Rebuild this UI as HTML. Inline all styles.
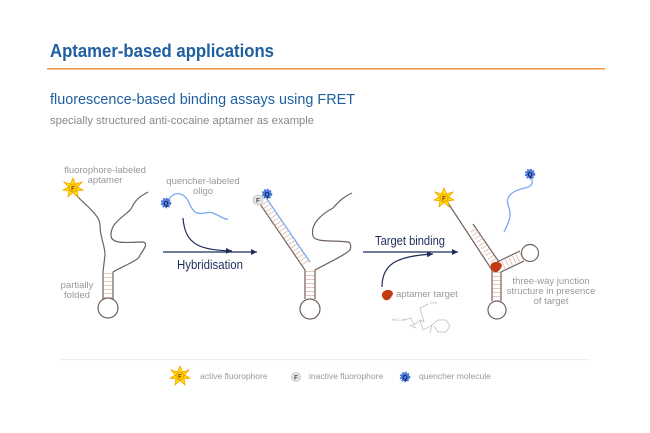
<!DOCTYPE html>
<html><head><meta charset="utf-8"><style>
html,body{margin:0;padding:0;background:#fff;}
svg{display:block;}
text{font-family:"Liberation Sans",sans-serif;}
</style></head><body>
<svg width="650" height="433" viewBox="0 0 650 433" xmlns="http://www.w3.org/2000/svg">
<defs>
<marker id="ah" markerWidth="6" markerHeight="6" refX="5" refY="3" orient="auto"><path d="M0,0.5 L5,3 L0,5.5 Z" fill="#1f2d5a"/></marker>
<g id="star"><polygon points="0,-10 2.5,-4 9,-6 4.5,-1 10,2 4,3 5,9 0,4.5 -5,9 -4,3 -10,2 -4.5,-1 -9,-6 -2.5,-4" fill="#ffe000" stroke="#f5a000" stroke-width="0.8"/><circle r="4" fill="#ffd400" stroke="#e08000" stroke-width="0.6"/><text x="0" y="2.5" font-size="6" font-weight="bold" text-anchor="middle" fill="#7a3000">F</text></g>
<g id="q"><circle r="4.2" fill="#4a78d8" stroke="#4a78d8" stroke-width="2.2" stroke-dasharray="1.6 1.2"/><circle r="3.6" fill="#4f7fe0"/><text x="0" y="2.3" font-size="6.5" font-weight="bold" text-anchor="middle" fill="#10204a">Q</text></g>
</defs>
<text x="50" y="57" font-size="18.5" font-weight="bold" fill="#1f5fa0" textLength="224" lengthAdjust="spacingAndGlyphs">Aptamer-based applications</text>
<rect x="47" y="68" width="558" height="1.6" fill="#ee9a4a"/>
<text x="50" y="104" font-size="15" fill="#1f5fa0" textLength="305" lengthAdjust="spacingAndGlyphs">fluorescence-based binding assays using FRET</text>
<text x="50" y="124" font-size="11" fill="#888" textLength="264" lengthAdjust="spacingAndGlyphs">specially structured anti-cocaine aptamer as example</text>

<g fill="none" stroke="#6e625c" stroke-width="1.2">
<path d="M74,193 C85,205 100,215 100,225 C100,238 105,245 105,255 L103,272"/>
<path d="M113,272 C125,265 140,260 140,255 C145,248 148,243 143,242 C130,242 112,245 111,236 C110,220 130,215 133,205 C138,197 143,195 148,192"/>
<path d="M103,272 L103,299 M113,272 L113,299"/>
<circle cx="108" cy="308" r="10"/>
<path d="M260,204 L305,270 L305,299 M315,299 L315,270 C330,262 345,255 350,250 C352,244 349,242 348,242 C335,240 315,243 313,236 C310,225 320,215 333,208 C340,200 345,196 352,193"/>
<circle cx="310" cy="309" r="10"/>
<path d="M446,200 L492,270 L492,301 M501,301 L501,272 L524,261 M499,262 L473,224 M497,262 L520,251"/>
<circle cx="497" cy="310" r="9"/>
<circle cx="530" cy="253" r="8.5"/>
</g>
<g stroke="#dfb4a6" fill="none">
<line x1="108" y1="273" x2="108" y2="298" stroke-width="9" stroke-dasharray="0.8 3.2"/>
<line x1="310" y1="271" x2="310" y2="298" stroke-width="9" stroke-dasharray="0.8 3.2"/>
<line x1="264" y1="203" x2="306" y2="264" stroke-width="8" stroke-dasharray="0.8 3.2"/>
<line x1="496.5" y1="272" x2="496.5" y2="300" stroke-width="8" stroke-dasharray="0.8 3.2"/>
<line x1="473" y1="230" x2="495" y2="263" stroke-width="7" stroke-dasharray="0.8 3.2"/>
<line x1="503" y1="265" x2="522" y2="256" stroke-width="8" stroke-dasharray="0.8 3.2"/>
</g>
<g fill="none" stroke="#7aaaf0" stroke-width="1.3">
<path d="M168,200 C175,190 185,192 190,205 C197,220 205,210 213,213 C220,216 225,220 228,219"/>
<path d="M267,199 L310,262"/>
<path d="M504,232 C510,220 512,215 508,205 C505,195 515,190 525,188 C535,186 532,180 531,176"/>
</g>
<use href="#star" x="73" y="188"/>
<use href="#q" x="166" y="203"/>
<circle cx="258" cy="200" r="5" fill="#e2e2e2" stroke="#c8c8c8" stroke-width="0.8"/>
<text x="258" y="202.5" font-size="6.5" font-weight="bold" text-anchor="middle" fill="#444">F</text>
<use href="#q" x="267" y="194"/>
<use href="#star" x="444" y="198"/>
<use href="#q" x="530" y="174"/>
<path d="M491,264 C495,260 502,262 502,266 C500,270 498,273 494,272 C491,270 490,267 491,264 Z" fill="#c43a10"/>
<path d="M383,292 C387,288 393,290 393,294 C391,298 389,301 385,300 C382,298 381,295 383,292 Z" fill="#c43a10"/>

<g fill="none" stroke="#1f2d5a" stroke-width="1.2">
<line x1="163" y1="252" x2="257" y2="252" marker-end="url(#ah)"/>
<path d="M183,218 C185,245 200,250 232,251" marker-end="url(#ah)"/>
<line x1="363" y1="252" x2="458" y2="252" marker-end="url(#ah)"/>
<path d="M382,287 C382,265 395,256 433,254" marker-end="url(#ah)"/>
</g>
<text x="210" y="269" font-size="13" fill="#1f2d5a" text-anchor="middle" textLength="66" lengthAdjust="spacingAndGlyphs">Hybridisation</text>
<text x="410" y="245" font-size="13" fill="#1f2d5a" text-anchor="middle" textLength="70" lengthAdjust="spacingAndGlyphs">Target binding</text>

<g fill="none" stroke="#b8b8b8" stroke-width="0.7">
<path d="M404,320 L411,318 L414,325 L420,320 L424,322 L420,308 L428,304 M420,320 L423,330 L432,325 L438,320 L446,320 L450,326 L446,332 L438,332 L434,326 M432,325 L430,333 M410,325 L416,328"/>
</g>
<text x="392" y="321" font-size="4" fill="#aaa">H₃C–N</text>
<text x="430" y="304" font-size="4" fill="#aaa">CH₃</text>

<g font-size="9.5" fill="#999" text-anchor="middle">
<text x="105" y="173">fluorophore-labeled</text>
<text x="105" y="183">aptamer</text>
<text x="203" y="184">quencher-labeled</text>
<text x="203" y="194">oligo</text>
<text x="77" y="288">partially</text>
<text x="77" y="298">folded</text>
<text x="551" y="284">three-way junction</text>
<text x="551" y="294">structure in presence</text>
<text x="551" y="304">of target</text>
<text x="396" y="297" text-anchor="start">aptamer target</text>
</g>

<rect x="60" y="359" width="530" height="1.2" fill="#eee"/>
<use href="#star" x="180" y="376"/>
<text x="200" y="379" font-size="8.5" fill="#999">active fluorophore</text>
<circle cx="296" cy="377" r="4.5" fill="#e2e2e2" stroke="#c8c8c8" stroke-width="0.8"/>
<text x="296" y="379.5" font-size="6" font-weight="bold" text-anchor="middle" fill="#444">F</text>
<text x="309" y="379" font-size="8.5" fill="#999">inactive fluorophore</text>
<use href="#q" x="405" y="377"/>
<text x="419" y="379" font-size="8.5" fill="#999">quencher molecule</text>
</svg>
</body></html>
